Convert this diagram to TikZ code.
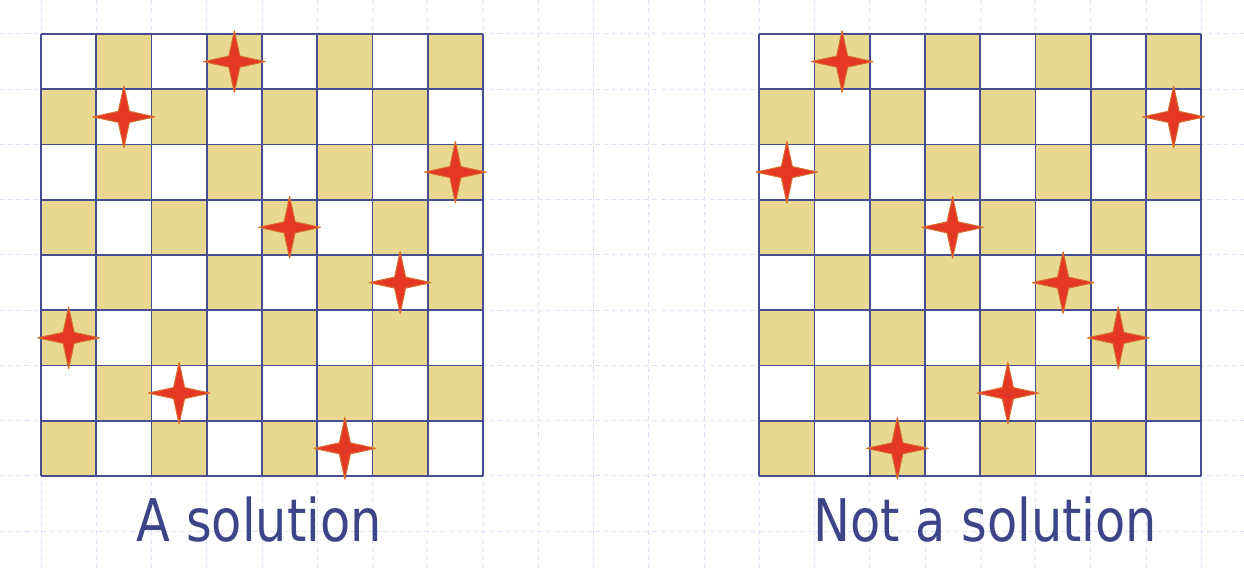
\documentclass[tikz,border=0pt]{standalone}
\usepackage{fontspec}
\usepackage{tikz}
\newfontfamily\capfont[FakeStretch=0.84]{DejaVu Sans}
\definecolor{boardtan}{RGB}{233,216,143}
\definecolor{boardblue}{RGB}{72,76,145}
\definecolor{gridblue}{RGB}{222,226,248}
\definecolor{textblue}{RGB}{61,68,136}
\definecolor{starred}{RGB}{228,56,36}
\definecolor{starorange}{RGB}{214,112,44}
\tikzset{queen/.pic={
  \path[fill=starred, draw=starorange, line width=0.5pt, line join=round]
    (0,0.56) -- (0.1,0.1) -- (0.56,0) -- (0.1,-0.1) -- (0,-0.56)
    -- (-0.1,-0.1) -- (-0.56,0) -- (-0.1,0.1) -- cycle;
}}

\begin{document}
\begin{tikzpicture}[
    gridline/.style={draw=gridblue, line width=0.5pt, dash pattern=on 2.6pt off 1.6pt},
    boardline/.style={draw=boardblue, line width=1pt},
    caption/.style={text=textblue, font=\capfont\fontsize{30.3}{36}\selectfont, anchor=base}]
	\useasboundingbox (-0.742,-1.666) rectangle (21.774,8.615);
	\draw[gridline] (-0.742,-1.666) grid (21.774,8.615);
	% two boards, queens given column by column from the top row
	\foreach \bx/\sol in {0/{4,2,8,5,7,1,3,6}, 13/{2,8,1,4,6,7,5,3}} {
		\fill[white] (\bx,0) rectangle (\bx+8,8);
		\foreach \i in {0,...,7}
			\foreach \j in {0,...,7} {
				\pgfmathparse{int(mod(\i+\j,2))}
				\ifnum\pgfmathresult=0 \fill[boardtan] (\bx+\i,\j) rectangle ++(1,1); \fi
			}
		\draw[boardline] (\bx,0) grid (\bx+8,8);
		\foreach \c [count=\r] in \sol
			\pic at (\bx+\c-0.5, 8.5-\r) {queen};
	}
	\node[caption] (good) at (3.95, -1.177) {A solution};
	\node[caption] (bad) at (17.09, -1.177) {Not a solution};
\end{tikzpicture}
\end{document}
